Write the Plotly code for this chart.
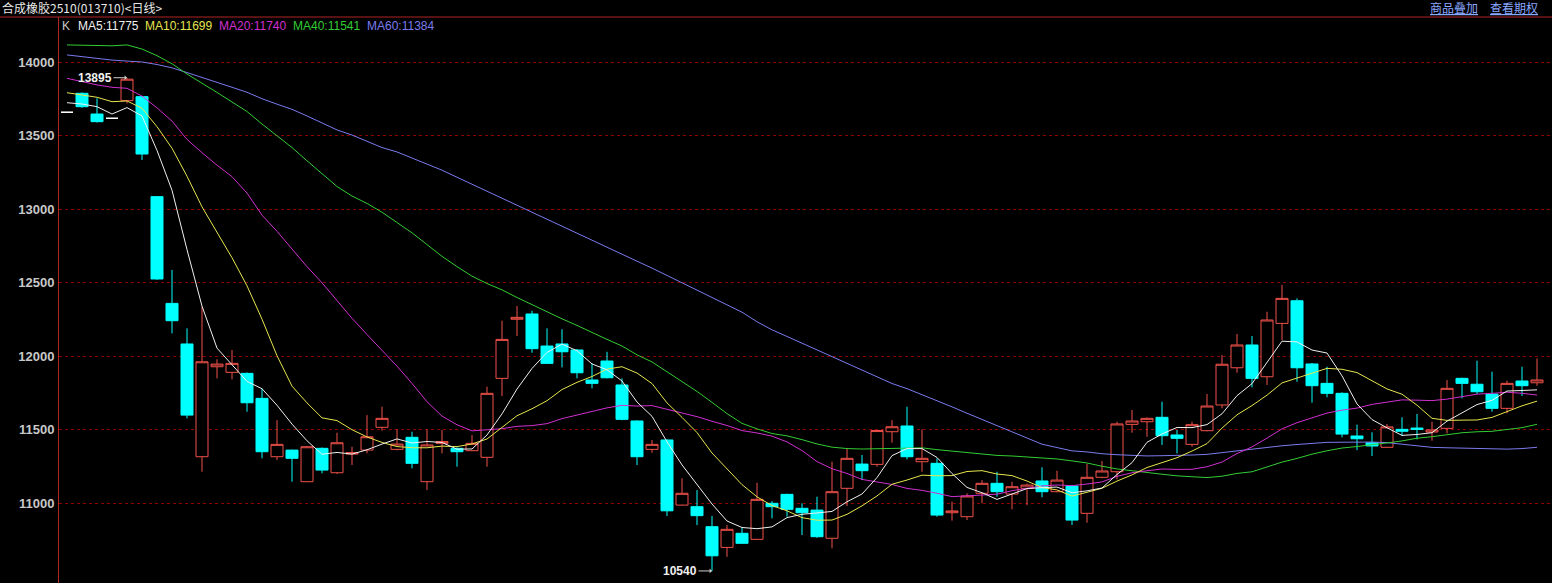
import numpy as np
import pandas as pd
import plotly.graph_objects as go

# ---------------- data ----------------
idx = list(range(99))
open_ = [13660, 13789, 13648, 13619, 13739, 13766, 13086, 12360, 12084, 11317,
         11929, 11891, 11884, 11714, 11317, 11362, 11147, 11374, 11208, 11335,
         11362, 11517, 11367, 11449, 11147, 11408, 11374, 11358, 11313, 11850,
         12252, 12288, 12070, 12084, 12043, 11839, 11968, 11805, 11560, 11367,
         11431, 10988, 10977, 10841, 10700, 10796, 10755, 11000, 11061, 10966,
         10954, 10762, 11102, 11267, 11265, 11487, 11526, 11283, 11272, 10936,
         10909, 11068, 11136, 11063, 11102, 11152, 11079, 11118, 10932, 11177,
         11215, 11537, 11555, 11585, 11465, 11401, 11494, 11669, 11922, 12077,
         11861, 12224, 12378, 11948, 11816, 11748, 11458, 11412, 11381, 11503,
         11512, 11485, 11510, 11850, 11810, 11743, 11646, 11832, 11820]
high = [13660, 13795, 13755, 13619, 13895, 13770, 13090, 12587, 12190, 12337,
        11980, 12043, 11890, 11782, 11566, 11365, 11390, 11380, 11480, 11385,
        11600, 11657, 11503, 11487, 11503, 11499, 11380, 11465, 11793, 12242,
        12342, 12310, 12190, 12184, 12050, 11952, 12031, 11850, 11565, 11431,
        11435, 11170, 11090, 10914, 10852, 10837, 11140, 11015, 11065, 11000,
        11045, 11283, 11374, 11329, 11500, 11566, 11657, 11503, 11306, 11011,
        11068, 11158, 11215, 11147, 11135, 11245, 11222, 11125, 11267, 11288,
        11555, 11635, 11585, 11691, 11499, 11555, 11744, 12009, 12152, 12138,
        12303, 12485, 12394, 11955, 11929, 11755, 11535, 11483, 11540, 11585,
        11608, 11555, 11839, 11855, 11970, 11895, 11834, 11929, 11986]
low = [13660, 13690, 13590, 13619, 13720, 13335, 12520, 12156, 11578, 11215,
       11850, 11843, 11623, 11306, 11294, 11147, 11145, 11204, 11200, 11260,
       11340, 11494, 11360, 11238, 11090, 11340, 11249, 11355, 11249, 11730,
       12138, 12024, 11948, 11925, 11850, 11782, 11850, 11565, 11260, 11344,
       10914, 10985, 10852, 10540, 10636, 10725, 10750, 10898, 10909, 10784,
       10765, 10694, 10982, 11158, 11249, 11412, 11299, 11215, 10909, 10882,
       10886, 11000, 11045, 10959, 10988, 11041, 11075, 10852, 10868, 11170,
       11163, 11480, 11453, 11397, 11340, 11385, 11490, 11646, 11888, 11789,
       11805, 12111, 11827, 11684, 11721, 11449, 11362, 11322, 11378, 11458,
       11435, 11426, 11476, 11714, 11743, 11623, 11612, 11730, 11800]
close = [13660, 13698, 13596, 13619, 13885, 13376, 12526, 12242, 11600, 11963,
         11947, 11952, 11684, 11351, 11401, 11306, 11385, 11226, 11412, 11345,
         11453, 11578, 11403, 11272, 11397, 11420, 11351, 11408, 11748, 12115,
         12265, 12052, 11952, 12031, 11888, 11816, 11854, 11571, 11317, 11401,
         10949, 11068, 10916, 10643, 10823, 10728, 11027, 10977, 10959, 10936,
         10773, 11079, 11306, 11222, 11495, 11521, 11317, 11306, 10920, 10948,
         11050, 11136, 11079, 11113, 11124, 11079, 11158, 10886, 11177, 11220,
         11540, 11560, 11578, 11460, 11442, 11535, 11662, 11946, 12077, 11850,
         12247, 12394, 11922, 11800, 11748, 11471, 11439, 11390, 11520, 11490,
         11503, 11499, 11782, 11816, 11759, 11646, 11816, 11800, 11839]

# moving-average values read off the picture where the window reaches
# before the first visible bar
ma5_early = [13725, 13716, 13698, 13648]
ma10_early = [13793, 13778, 13762, 13732, 13737, 13687, 13562, 13415, 13225]
ma20_early = [13891, 13868, 13846, 13830, 13823, 13770, 13690, 13600, 13475, 13385,
              13300, 13222, 13110, 12960, 12850, 12730, 12610, 12500, 12380]
ma40_early = [14118, 14117, 14113, 14112, 14118, 14090, 14045, 13990, 13920, 13860,
              13795, 13730, 13665, 13580, 13500, 13420, 13330, 13240, 13155, 13090,
              13040, 12980, 12910, 12840, 12760, 12680, 12610, 12545, 12495, 12452,
              12400, 12350, 12300, 12255, 12210, 12160, 12115, 12070, 12010]
ma60_early = [14050, 14038, 14026, 14015, 14008, 14002, 13985, 13962, 13930, 13898,
              13865, 13830, 13796, 13752, 13715, 13680, 13635, 13585, 13540, 13505,
              13460, 13420, 13390, 13350, 13310, 13266, 13218, 13170, 13123, 13075,
              13028, 12980, 12932, 12885, 12837, 12790, 12742, 12694, 12647, 12600,
              12550, 12500, 12450, 12400, 12350, 12300, 12235, 12180, 12135, 12090,
              12045, 12000, 11955, 11905, 11860, 11815, 11780, 11740, 11700]

title_text = "合成橡胶2510(013710)<日线>"
legend_items = [("K", "#c8c8c8"), ("MA5:11775", "#f0f0f0"), ("MA10:11699", "#e6e64d"),
                ("MA20:11740", "#d030d0"), ("MA40:11541", "#33cc33"), ("MA60:11384", "#7b7bef")]
link_items = ["商品叠加", "查看期权"]
y_ticks = [11000, 11500, 12000, 12500, 13000, 13500, 14000]
hi_label, lo_label = 13895, 10540

# ---------------- build ----------------
W, H = 1552, 583
ML, MT = 59, 17
PW, PH = W - ML, H - MT
UP, DOWN = "#f0504a", "#00ffff"

def ma(n, early):
    s = pd.Series(close, dtype=float).rolling(n).mean().to_numpy()
    s[:len(early)] = early
    return s

fig = go.Figure()

o = np.array(open_); c = np.array(close)
groups = [(c > o, UP, "black"), (c < o, DOWN, DOWN), (c == o, "#ffffff", "#ffffff")]
for mask, col, fill in groups:
    sel = np.where(mask)[0]
    fig.add_trace(go.Candlestick(
        x=[idx[k] for k in sel], open=[open_[k] for k in sel], high=[high[k] for k in sel],
        low=[low[k] for k in sel], close=[close[k] for k in sel],
        increasing=dict(line=dict(color=col, width=1), fillcolor=fill),
        decreasing=dict(line=dict(color=col, width=1), fillcolor=fill),
        whiskerwidth=0, showlegend=False, hoverinfo="skip"))

ma_specs = [(60, ma60_early, "#7b7bef"), (40, ma40_early, "#33cc33"),
            (20, ma20_early, "#d030d0"), (10, ma10_early, "#e6e64d"),
            (5, ma5_early, "#f0f0f0")]
for n, early, col in ma_specs:
    fig.add_trace(go.Scatter(x=idx, y=ma(n, early), mode="lines",
                             line=dict(color=col, width=1), showlegend=False,
                             hoverinfo="skip"))

def px_x(px):
    return (px - ML) / PW

def px_y(py):
    return 1 - (py - MT) / PH

ann = []
ann.append(dict(text=title_text, x=px_x(0), y=px_y(7), xref="paper", yref="paper",
                xanchor="left", yanchor="middle", showarrow=False,
                font=dict(family="Noto Sans CJK SC", size=12, color="#e8e8e8")))
for txt, xc in zip(link_items, [1454, 1514]):
    ann.append(dict(text="<u>" + txt + "</u>", x=px_x(xc), y=px_y(7), xref="paper",
                    yref="paper", xanchor="center", yanchor="middle", showarrow=False,
                    font=dict(family="Noto Sans CJK SC", size=12, color="#8aa8ff")))
for (txt, col), xl in zip(legend_items, [60, 76, 143, 217, 291, 365]):
    ann.append(dict(text=txt, x=px_x(xl), y=px_y(26), xref="paper", yref="paper",
                    xanchor="left", yanchor="middle", showarrow=False,
                    font=dict(family="Liberation Sans", size=12, color=col)))
hi_i = int(np.argmax(high)); lo_i = int(np.argmin(low))
for xi, yv in [(hi_i, hi_label), (lo_i, lo_label)]:
    ann.append(dict(text=str(yv), x=xi, y=yv, xref="x", yref="y", showarrow=True,
                    ax=-32, ay=0, arrowhead=1, arrowsize=0.8, arrowwidth=1,
                    arrowcolor="#d0d0d0", standoff=0,
                    font=dict(family="Liberation Sans", size=12, color="#f0f0f0",
                              weight="bold")))

fig.update_layout(
    width=W, height=H, margin=dict(l=ML, r=0, t=MT, b=0),
    paper_bgcolor="black", plot_bgcolor="black",
    boxgap=0.2, boxgroupgap=0, showlegend=False,
    annotations=ann,
    shapes=[dict(type="line", xref="paper", yref="paper", x0=px_x(0), x1=1,
                 y0=1, y1=1, line=dict(color="#b02525", width=1))],
    xaxis=dict(range=[-0.533, 99.0], visible=False, rangeslider=dict(visible=False),
               fixedrange=True),
    yaxis=dict(range=[10458, 14308], tickvals=y_ticks,
               ticktext=[str(v) for v in y_ticks], showgrid=True,
               gridcolor="#8c0000", griddash="dot", gridwidth=1,
               showline=True, linecolor="#b02525", linewidth=1, zeroline=False,
               ticks="", ticklabelstandoff=1,
               tickfont=dict(family="Liberation Sans", size=13, color="#c8c8c8",
                             weight="bold")),
)

fig.write_html("out.html", config={"displayModeBar": False},
               post_script="document.body.style.margin='0';"
                           "document.body.style.background='black';"
                           "document.body.style.overflow='hidden';")
